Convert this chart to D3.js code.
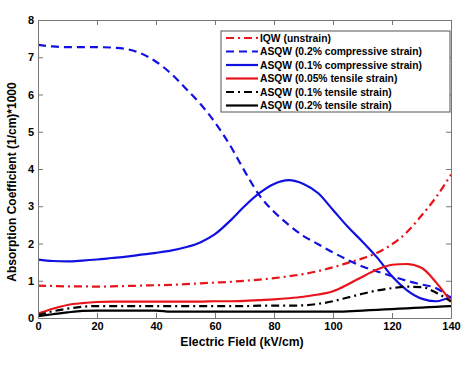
<!DOCTYPE html>
<html>
<head>
<meta charset="utf-8">
<script src="https://cdn.jsdelivr.net/npm/d3@7"></script>
<style>
  body { margin: 0; background: #fff; }
  svg { font-family: "Liberation Sans", Arial, sans-serif; font-weight: bold; }
</style>
</head>
<body>
<svg id="chart" width="474" height="370"></svg>
<script>
'use strict'

// electric field (kV/cm) sample points
const field = [0, 5, 10, 15, 20, 25, 30, 35, 40, 45, 50, 55, 60, 65, 70, 75, 80, 85, 90, 95, 100, 105, 110, 115, 120, 125, 130, 135, 140]

const iqw       = [0.87, 0.86, 0.85, 0.85, 0.84, 0.85, 0.86, 0.87, 0.88, 0.89, 0.91, 0.93, 0.95, 0.97, 1.0, 1.03, 1.07, 1.12, 1.18, 1.26, 1.36, 1.48, 1.6, 1.75, 1.98, 2.3, 2.75, 3.25, 3.85]
const comp02    = [7.33, 7.29, 7.27, 7.27, 7.27, 7.26, 7.22, 7.1, 6.88, 6.57, 6.17, 5.75, 5.25, 4.65, 3.95, 3.3, 2.85, 2.5, 2.2, 1.98, 1.76, 1.56, 1.38, 1.25, 1.12, 1.0, 0.9, 0.8, 0.53]
const comp01    = [1.57, 1.53, 1.52, 1.54, 1.57, 1.61, 1.65, 1.7, 1.75, 1.81, 1.9, 2.03, 2.25, 2.6, 3.0, 3.35, 3.6, 3.7, 3.6, 3.35, 2.9, 2.45, 2.05, 1.62, 1.12, 0.75, 0.52, 0.45, 0.58]
const tens005   = [0.12, 0.25, 0.35, 0.4, 0.43, 0.44, 0.44, 0.44, 0.44, 0.44, 0.44, 0.44, 0.45, 0.45, 0.46, 0.48, 0.5, 0.53, 0.57, 0.63, 0.72, 0.9, 1.11, 1.3, 1.43, 1.45, 1.35, 0.95, 0.44]
const tens01    = [0.08, 0.18, 0.25, 0.3, 0.32, 0.32, 0.32, 0.32, 0.32, 0.32, 0.32, 0.32, 0.32, 0.32, 0.32, 0.33, 0.33, 0.33, 0.34, 0.38, 0.45, 0.55, 0.65, 0.74, 0.8, 0.84, 0.83, 0.68, 0.44]
const tens02    = [0.05, 0.1, 0.15, 0.19, 0.2, 0.2, 0.2, 0.2, 0.2, 0.17, 0.17, 0.17, 0.17, 0.17, 0.17, 0.17, 0.17, 0.17, 0.17, 0.17, 0.17, 0.18, 0.2, 0.22, 0.24, 0.26, 0.28, 0.3, 0.32]

const seriesNames = ['IQW (unstrain)', 'ASQW (0.2% compressive strain)', 'ASQW (0.1% compressive strain)',
  'ASQW (0.05% tensile strain)', 'ASQW (0.1% tensile strain)', 'ASQW (0.2% tensile strain)']
const seriesValues = [iqw, comp02, comp01, tens005, tens01, tens02]
const seriesColors = ['#e8141c', '#1010e0', '#1010e0', '#e8141c', '#000', '#000']
const seriesDash = ['8,4,2,4', '8,5', null, null, '8,4,2,4', null]

const xTicks = [0, 20, 40, 60, 80, 100, 120, 140]
const yTicks = [0, 1, 2, 3, 4, 5, 6, 7, 8]

const svg = d3.select('#chart')
const margin = { top: 20, right: 23, bottom: 52, left: 38 }
const width = 474 - margin.left - margin.right
const height = 370 - margin.top - margin.bottom

const x = d3.scaleLinear().domain([0, 140]).range([0, width])
const y = d3.scaleLinear().domain([0, 8]).range([height, 0])

const g = svg.append('g').attr('transform', `translate(${margin.left},${margin.top})`)

const clip = g.append('clipPath').attr('id', 'clip')
clip.append('rect').attr('width', width).attr('height', height)

const line = d3.line().x((d, i) => x(field[i])).y(d => y(d)).curve(d3.curveMonotoneX)

let lines = g.append('g').attr('clip-path', 'url(#clip)')

seriesValues.forEach((vals, i) => {
  lines.append('path')
    .attr('d', line(vals))
    .attr('fill', 'none')
    .attr('stroke', seriesColors[i])
    .attr('stroke-width', 2.2)
    .attr('stroke-dasharray', seriesDash[i])
})

// axes, ticks pointing inward like MATLAB
const axisStyle = sel => {
  sel.select('.domain').attr('stroke', '#777')
  sel.selectAll('.tick line').attr('stroke', '#777')
  sel.selectAll('text').attr('font-size', 11).attr('font-weight', 'bold').attr('fill', '#000')
}

g.append('g').attr('transform', `translate(0,${height})`)
  .call(d3.axisBottom(x).tickValues(xTicks).tickSizeInner(-5).tickSizeOuter(0).tickPadding(4))
  .call(axisStyle)
g.append('g')
  .call(d3.axisTop(x).tickValues(xTicks).tickSizeInner(-5).tickSizeOuter(0).tickFormat(''))
  .call(axisStyle)
g.append('g')
  .call(d3.axisLeft(y).tickValues(yTicks).tickSizeInner(-5).tickSizeOuter(0).tickPadding(4))
  .call(axisStyle)
g.append('g').attr('transform', `translate(${width},0)`)
  .call(d3.axisRight(y).tickValues(yTicks).tickSizeInner(-5).tickSizeOuter(0).tickFormat(''))
  .call(axisStyle)

// axis titles
svg.append('text')
  .attr('x', 242)
  .attr('y', 346)
  .attr('text-anchor', 'middle')
  .attr('font-size', 12.2)
  .text('Electric Field (kV/cm)')

svg.append('text')
  .attr('transform', 'translate(16,182) rotate(-90)')
  .attr('text-anchor', 'middle')
  .attr('font-size', 12)
  .text('Absorption Coefficient (1/cm)*1000')

// legend
let legend = g.append('g').attr('transform', 'translate(183,11)')
legend.append('rect')
  .attr('width', 229).attr('height', 81)
  .attr('fill', '#fff').attr('stroke', '#555').attr('stroke-width', 1)

let items = legend.selectAll('g').data(seriesNames).enter().append('g')
  .attr('transform', (d, i) => `translate(0, ${7 + i * 13.5})`)

items.append('line')
  .attr('x1', 5).attr('x2', 37).attr('y1', 0).attr('y2', 0)
  .attr('stroke', (d, i) => seriesColors[i])
  .attr('stroke-width', 2.2)
  .attr('stroke-dasharray', (d, i) => seriesDash[i])

items.append('text')
  .attr('x', 39).attr('dy', '.35em')
  .attr('font-size', 10.3)
  .text(d => d)
</script>
</body>
</html>
